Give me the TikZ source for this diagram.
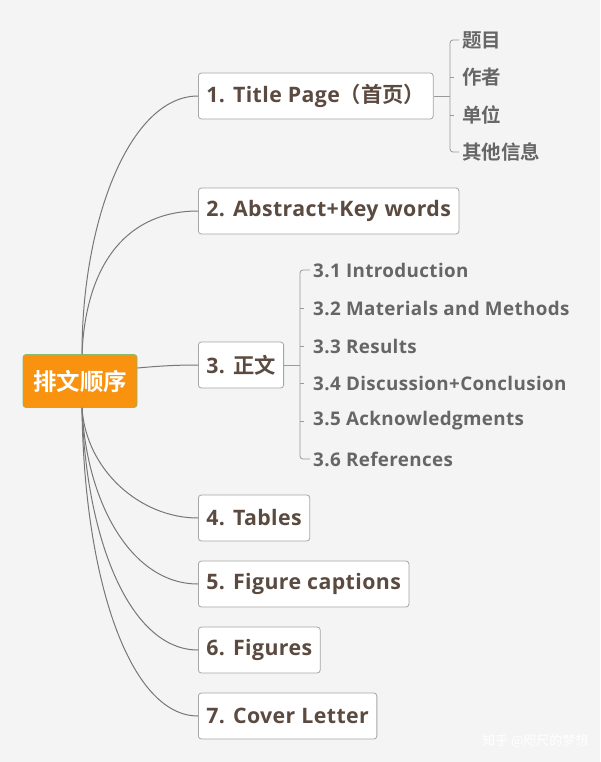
\documentclass[tikz,border=0pt]{standalone}
\usepackage{fontspec}
\usetikzlibrary{calc}
\setmainfont{Open Sans}[LetterSpace=2]
\newfontfamily\cjk{Noto Sans CJK SC}[BoldFont={* Bold}]
\definecolor{bg}{HTML}{F4F4F4}
\definecolor{txt}{HTML}{5B4A40}
\definecolor{sub}{HTML}{666666}
\definecolor{orng}{HTML}{F8920F}
\definecolor{grn}{HTML}{8DB96A}
\definecolor{ln}{HTML}{777777}
\tikzset{
  box/.style={draw=gray!70,fill=white,rounded corners=3pt,line width=0.8pt,minimum height=46pt,inner xsep=8pt,anchor=west,font=\fontsize{21.3}{22}\selectfont\bfseries,text=txt},
  subt/.style={anchor=west,font=\fontsize{18.8}{20}\selectfont\bfseries,text=sub,inner sep=0pt},
  conn/.style={draw=ln,line width=1pt},
  brk/.style={draw=gray!80,line width=0.8pt,rounded corners=3pt}
}
\begin{document}
\begin{tikzpicture}[x=1pt,y=-1pt]
\fill[bg] (0,0) rectangle (600,762);
\useasboundingbox (0,0) rectangle (600,762);
\node[box,draw=grn,fill=orng,text=white,minimum width=114pt,minimum height=53pt,anchor=center,inner xsep=4pt,font=\cjk\fontsize{23.5}{25}\selectfont\bfseries] (root) at (80,381) {排文顺序};
\node[box] (n1) at (198,96) {1. Title Page{\cjk（首页）}};
\node[box] (n2) at (198,211) {2. Abstract+Key words};
\node[box] (n3) at (198,365) {3. {\cjk 正文}};
\node[box] (n4) at (198,518) {4. Tables};
\node[box] (n5) at (198,584) {5. Figure captions};
\node[box] (n6) at (198,650) {6. Figures};
\node[box] (n7) at (198,716) {7. Cover Letter};
\draw[conn] (root.north) ++(2,0) coordinate (t) .. controls (82,220) and (130,96) .. (n1.west);
\draw[conn] (t) .. controls (86,260) and (130,211) .. (n2.west);
\draw[conn] (root.east) ++(0,-13) coordinate (e) .. controls (160,366) and (175,365) .. (n3.west);
\draw[conn] (root.south) ++(2,0) coordinate (b) .. controls (86,470) and (140,518) .. (n4.west);
\draw[conn] (b) .. controls (86,500) and (130,584) .. (n5.west);
\draw[conn] (b) .. controls (86,540) and (130,650) .. (n6.west);
\draw[conn] (b) .. controls (84,580) and (130,716) .. (n7.west);
% title page children
\foreach \t/\y/\k in {题目/40/a,作者/77/b,单位/115/c,其他信息/152/d}
  \node[subt,font=\cjk\fontsize{19.5}{21}\selectfont\bfseries] (s\k) at (462,\y) {\t};
\coordinate (j1) at (450,96);
\draw[brk] (n1.east) -- (j1);
\draw[brk] ($(sa.west)+(-3,0)$) -- (450,40) -- (450,152) -- ($(sd.west)+(-3,0)$);
\foreach \k in {b,c} \draw[brk] (450,0 |- s\k.west) -- ++(4,0);
% section 3 children
\foreach \t/\y/\k in {3.1 Introduction/270/a,3.2 Materials and Methods/308/b,3.3 Results/346/c,3.4 Discussion+Conclusion/383/d,3.5 Acknowledgments/421/e,3.6 References/459/f}
  \node[subt] (r\k) at (313,\y) {\t};
\draw[brk] (n3.east) -- (300,365);
\draw[brk] ($(ra.west)+(-3,0)$) -- (300,270) -- (300,459) -- ($(rf.west)+(-3,0)$);
\foreach \k in {b,c,d,e} \draw[brk] (300,0 |- r\k.west) -- ++(4,0);
\node[anchor=east,font=\cjk\fontsize{13}{15}\selectfont,text=white] (wm) at (592,741) {知乎 @咫尺的梦想};
\end{tikzpicture}
\end{document}
